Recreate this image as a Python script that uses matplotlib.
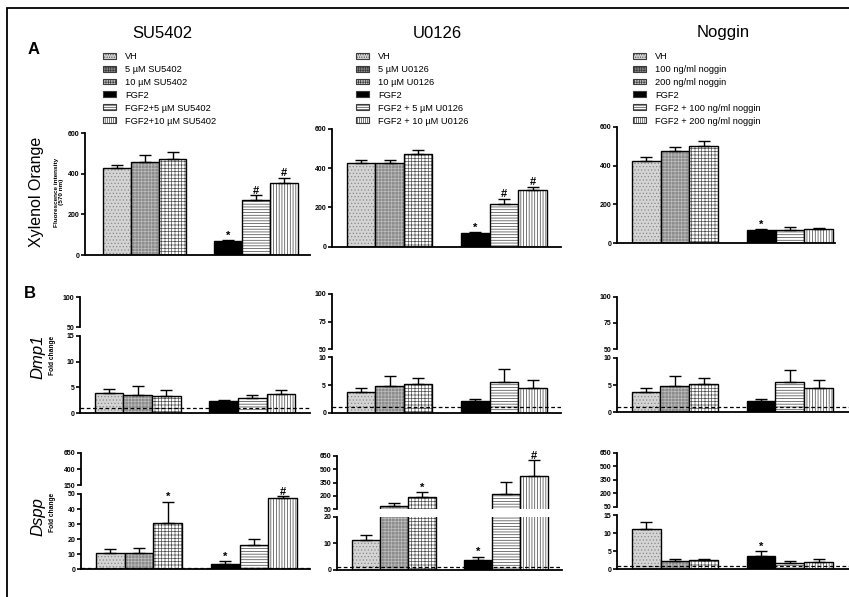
import matplotlib
matplotlib.use('Agg')
import matplotlib.pyplot as plt
from matplotlib.patches import Patch, Rectangle
import numpy as np

# ---- data ----
labels_su = ['VH', '5 µM SU5402', '10 µM SU5402', 'FGF2', 'FGF2+5 µM SU5402', 'FGF2+10 µM SU5402']
labels_u0 = ['VH', '5 µM U0126', '10 µM U0126', 'FGF2', 'FGF2 + 5 µM U0126', 'FGF2 + 10 µM U0126']
labels_ng = ['VH', '100 ng/ml noggin', '200 ng/ml noggin', 'FGF2', 'FGF2 + 100 ng/ml noggin', 'FGF2 + 200 ng/ml noggin']

# xylenol orange, fluorescence intensity (570 nm)
xo_su = [430, 457, 472, 70, 272, 355]
xo_su_err = [15, 33, 33, 4, 22, 25]
xo_u0 = [428, 425, 475, 72, 220, 290]
xo_u0_err = [15, 17, 18, 4, 25, 15]
xo_ng = [425, 475, 502, 68, 70, 73]
xo_ng_err = [17, 19, 24, 4, 15, 7]
xo_su_marks = ['', '', '', '*', '#', '#']
xo_u0_marks = ['', '', '', '*', '#', '#']
xo_ng_marks = ['', '', '', '*', '', '']

# Dmp1 fold change
dmp1_su = [3.9, 3.5, 3.4, 2.3, 3.0, 3.7]
dmp1_su_err = [0.7, 1.8, 1.0, 0.3, 0.5, 0.7]
dmp1_u0 = [3.7, 4.8, 5.1, 2.1, 5.5, 4.4]
dmp1_u0_err = [0.7, 1.8, 1.2, 0.4, 2.3, 1.5]
dmp1_ng = [3.7, 4.8, 5.1, 2.1, 5.5, 4.4]
dmp1_ng_err = [0.7, 1.8, 1.2, 0.4, 2.3, 1.5]

# Dspp fold change
dspp_su = [11.0, 10.6, 30.5, 3.7, 16.3, 47.3]
dspp_su_err = [2.3, 3.7, 14.4, 1.8, 3.8, 1.4]
dspp_u0 = [11.2, 87, 185, 3.75, 219, 428]
dspp_u0_err = [2.0, 34, 60, 1.25, 141, 173]
dspp_ng = [11.1, 2.3, 2.5, 3.8, 1.7, 2.1]
dspp_ng_err = [1.9, 0.6, 0.4, 1.3, 0.6, 0.7]
dspp_su_marks = ['', '', '*', '*', '', '#']
dspp_u0_marks = ['', '', '*', '*', '', '#']
dspp_ng_marks = ['', '', '', '*', '', '']

# ---- style ----
plt.rcParams['font.family'] = ['Liberation Sans', 'DejaVu Sans']
plt.rcParams['hatch.linewidth'] = 0.5
xpos = [0, 1, 2, 4, 5, 6]
faces = ['#d4d4d4', '#8c8c8c', 'white', 'black', 'white', 'white']
hatches = ['.....', '+++++', '+++++', '', '------', '||||||']
hcols = ['#8a8a8a', '#bdbdbd', '#505050', 'black', '#404040', '#404040']

W, H = 849, 597
fig = plt.figure(figsize=(W / 100, H / 100), dpi=100)


def px_axes(x0, x1, ytop, ybot):
    return fig.add_axes([x0 / W, 1 - ybot / H, (x1 - x0) / W, (ybot - ytop) / H])


def style(ax, bottom=True):
    for s in ['top', 'right']:
        ax.spines[s].set_visible(False)
    ax.spines['bottom'].set_visible(bottom)
    for s in ['left', 'bottom']:
        ax.spines[s].set_linewidth(1.3)
    ax.set_xticks([])
    ax.tick_params(axis='y', direction='out', length=3, width=1.2, labelsize=5, pad=1)
    for t in ax.get_yticklabels():
        t.set_fontweight('bold')
    ax.patch.set_visible(False)


def bars(ax, vals, errs):
    for i in range(6):
        ax.bar(xpos[i], vals[i], width=1, color=faces[i], hatch=hatches[i], edgecolor=hcols[i], lw=0)
        ax.bar(xpos[i], vals[i], width=1, fill=False, edgecolor='black', lw=1)
    ax.errorbar(xpos, vals, yerr=[np.zeros(6), errs], fmt='none', ecolor='black',
                elinewidth=1, capsize=4, capthick=1)


def marks(ax_lo, ax_hi, vals, errs, mk):
    for i in range(6):
        if not mk[i]:
            continue
        top = vals[i] + errs[i]
        ax = ax_lo
        if ax_hi is not None and top > ax_lo.get_ylim()[1]:
            ax = ax_hi
        ax.annotate(mk[i], (xpos[i], top), xytext=(0, 1), textcoords='offset points',
                    ha='center', va='baseline', fontsize=8, fontweight='bold', annotation_clip=False)


# ---- panel A ----
A = [(85, 310, 133, 255, (-1.14, 6.93), xo_su, xo_su_err, xo_su_marks),
     (331.7, 561, 129, 246.7, (-1.02, 6.99), xo_u0, xo_u0_err, xo_u0_marks),
     (617.3, 835, 126.7, 243.3, (-1.01, 6.57), xo_ng, xo_ng_err, xo_ng_marks)]
for x0, x1, yt, yb, xl, v, e, mk in A:
    ax = px_axes(x0, x1, yt, yb)
    bars(ax, v, e)
    ax.set_xlim(xl)
    ax.set_ylim(0, 600)
    ax.set_yticks([0, 200, 400, 600])
    style(ax)
    marks(ax, None, v, e, mk)


# ---- panel B (broken y axes) ----
def broken(x0, x1, up, lo, xl, v, e, mk, up_ticks, lo_ticks):
    ah = px_axes(x0, x1, up[0], up[1])
    al = px_axes(x0, x1, lo[0], lo[1])
    for ax in (ah, al):
        bars(ax, v, e)
        ax.set_xlim(xl)
    ah.set_ylim(up_ticks[0], up_ticks[-1])
    al.set_ylim(lo_ticks[0], lo_ticks[-1])
    ah.set_yticks(up_ticks)
    al.set_yticks(lo_ticks)
    style(ah, bottom=False)
    style(al)
    al.axhline(1, ls=(0, (3, 2)), color='black', lw=0.9)
    marks(al, ah, v, e, mk)


no_marks = [''] * 6
broken(80, 310, (297, 327), (336, 413), (-1.02, 7.02), dmp1_su, dmp1_su_err, no_marks, [50, 100], [0, 5, 10, 15])
broken(331.7, 561, (294, 349), (357.3, 412.7), (-1.02, 6.99), dmp1_u0, dmp1_u0_err, no_marks, [50, 75, 100], [0, 5, 10])
broken(617, 849, (296.7, 349), (357.7, 412.3), (-1.01, 7.06), dmp1_ng, dmp1_ng_err, no_marks, [50, 75, 100], [0, 5, 10])

broken(81, 310, (452.7, 485.3), (494, 569.3), (-1.02, 6.95), dspp_su, dspp_su_err, dspp_su_marks,
       [150, 400, 650], [0, 10, 20, 30, 40, 50])
broken(337.3, 561.7, (456, 509.3), (516.7, 570), (-1.02, 7.0), dspp_u0, dspp_u0_err, dspp_u0_marks,
       [50, 200, 350, 500, 650], [0, 10, 20])
broken(617.3, 849, (452.7, 506.7), (515, 569.3), (-1.01, 7.06), dspp_ng, dspp_ng_err, dspp_ng_marks,
       [50, 200, 350, 500, 650], [0, 5, 10, 15])

# ---- legends ----
leg_faces = ['#d4d4d4', '#8c8c8c', '#d0d0d0', 'black', 'white', 'white']
handles = [Patch(facecolor=leg_faces[i], hatch=hatches[i] + hatches[i][:2], edgecolor='#3a3a3a', lw=0.8)
           for i in range(6)]
for lx, ly, lab in [(103, 52, labels_su), (356, 52, labels_u0), (633, 52, labels_ng)]:
    fig.legend(handles, lab, loc='upper left', bbox_to_anchor=(lx / W, 1 - ly / H), frameon=False,
               fontsize=6.7, borderpad=0, borderaxespad=0, handlelength=1.35, handleheight=0.6,
               handletextpad=1.05, labelspacing=0.42)

# ---- titles & labels ----
fig.text(162 / W, 1 - 34 / H, 'SU5402', ha='center', va='center', fontsize=12)
fig.text(437 / W, 1 - 33 / H, 'U0126', ha='center', va='center', fontsize=12)
fig.text(723 / W, 1 - 32 / H, 'Noggin', ha='center', va='center', fontsize=12)
fig.text(34 / W, 1 - 50 / H, 'A', ha='center', va='center', fontsize=12, fontweight='bold')
fig.text(30 / W, 1 - 294 / H, 'B', ha='center', va='center', fontsize=12, fontweight='bold')

fig.text(37 / W, 1 - 192 / H, 'Xylenol Orange', rotation=90, ha='center', va='center', fontsize=11.5)
fig.text(59 / W, 1 - 192 / H, 'Fluorescence intensity\n(570 nm)', rotation=90, ha='center', va='center',
         fontsize=4.6, fontweight='bold', multialignment='center')
fig.text(38 / W, 1 - 357 / H, 'Dmp1', rotation=90, ha='center', va='center', fontsize=12, style='italic')
fig.text(52 / W, 1 - 355 / H, 'Fold change', rotation=90, ha='center', va='center', fontsize=4.8, fontweight='bold')
fig.text(38 / W, 1 - 517 / H, 'Dspp', rotation=90, ha='center', va='center', fontsize=12, style='italic')
fig.text(52 / W, 1 - 512 / H, 'Fold change', rotation=90, ha='center', va='center', fontsize=4.8, fontweight='bold')

# outer frame
fig.patches.append(Rectangle((7 / W, -0.1), 1.2, 1.1 - 8 / H, transform=fig.transFigure, fill=False,
                             edgecolor='black', lw=1.3))

fig.savefig('out.png', dpi=100)
